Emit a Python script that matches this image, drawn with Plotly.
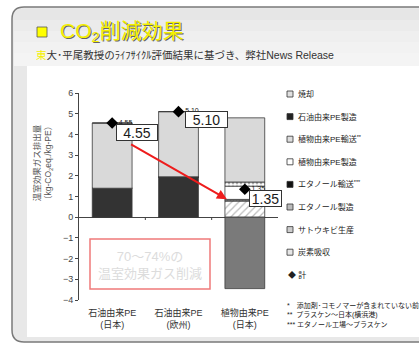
import plotly.graph_objects as go

# ---------------- data ----------------
categories = ["石油由来PE<br>(日本)", "石油由来PE<br>(欧州)", "植物由来PE<br>(日本)"]
petro_pe_production = [1.40, 1.95, 0.0]     # 石油由来PE製造
sugarcane = [0.0, 0.0, 0.78]                # サトウキビ生産
ethanol_production = [0.0, 0.0, 0.05]       # エタノール製造
ethanol_transport = [0.0, 0.0, 0.03]        # エタノール輸送***
bio_pe_production = [0.0, 0.0, 0.64]        # 植物由来PE製造
bio_pe_transport = [0.0, 0.0, 0.20]         # 植物由来PE輸送**
incineration = [3.15, 3.15, 3.10]           # 焼却
carbon_absorption = [0.0, 0.0, -3.45]       # 炭素吸収
totals = [4.55, 5.10, 1.35]                 # 計
total_labels = ["4.55", "5.10", "1.35"]
y_ticks = [-4, -3, -2, -1, 0, 1, 2, 3, 4, 5, 6]
legend_labels = ["焼却", "石油由来PE製造", "植物由来PE輸送<sup>**</sup>", "植物由来PE製造",
                 "エタノール輸送<sup>***</sup>", "エタノール製造", "サトウキビ生産", "炭素吸収", "計"]
footnotes = ["*　添加剤･コモノマーが含まれていない前提", "**  プラスケン～日本(横浜港)",
             "*** エタノール工場～プラスケン"]

W, H = 419, 347
L, R, T, B = 79, 278, 93, 300
JP = "Liberation Sans, Noto Sans CJK JP"

def X(px):
    return (px - L) / (R - L)

def Y(py):
    return (B - py) / (B - T)

line = dict(color="#3a3a3a", width=0.8)
xs = list(range(len(categories)))

fig = go.Figure()
fig.add_bar(x=xs, y=petro_pe_production, name="石油由来PE製造", marker=dict(color="#333333", line=line))
fig.add_bar(x=xs, y=sugarcane, name="サトウキビ生産",
            marker=dict(color="white", line=line, pattern=dict(shape="/", fgcolor="#777777", bgcolor="white", size=5, solidity=0.25)))
fig.add_bar(x=xs, y=ethanol_production, name="エタノール製造",
            marker=dict(color="white", line=line, pattern=dict(shape="|", fgcolor="#555555", bgcolor="white", size=3)))
fig.add_bar(x=xs, y=ethanol_transport, name="エタノール輸送", marker=dict(color="#111111", line=line))
fig.add_bar(x=xs, y=bio_pe_production, name="植物由来PE製造", marker=dict(color="white", line=line))
fig.add_bar(x=xs, y=bio_pe_transport, name="植物由来PE輸送",
            marker=dict(color="white", line=line, pattern=dict(shape=".", fgcolor="#555555", bgcolor="white", size=4, solidity=0.4)))
fig.add_bar(x=xs, y=incineration, name="焼却", marker=dict(color="#d9d9d9", line=line))
fig.add_bar(x=xs, y=carbon_absorption, name="炭素吸収", marker=dict(color="#7a7a7a", line=line))
fig.add_scatter(x=xs, y=totals, name="計", mode="markers+text", text=total_labels,
                textposition="middle right", textfont=dict(size=7, color="#222"),
                marker=dict(symbol="diamond", size=9, color="black"))

for i, (v, t) in enumerate(zip(totals, total_labels)):
    shifts = [(25, -9, 40), (28, -8, 41), (21, -9, 31)][i]
    fig.add_annotation(x=i, y=v, text=t, showarrow=False, xshift=shifts[0], yshift=shifts[1],
                       width=shifts[2], height=15, bgcolor="white", bordercolor="#333", borderwidth=1,
                       borderpad=0, font=dict(size=14, color="#1a1a1a", family="Liberation Sans"))

# red arrow between first and third totals
fig.add_annotation(x=1.73, y=0.87, ax=0.24, ay=3.6, xref="x", yref="y", axref="x", ayref="y",
                   showarrow=True, arrowhead=2, arrowsize=1, arrowwidth=2, arrowcolor="#ee1c1c", text=" ")

shapes = []
# panel
r = 12
shapes.append(dict(type="path", xref="paper", yref="paper", layer="below",
                   path=(f"M{X(12)},{Y(7+r)} Q{X(12)},{Y(7)} {X(12+r)},{Y(7)} L{X(440)},{Y(7)} "
                         f"L{X(440)},{Y(342)} L{X(12+r)},{Y(342)} Q{X(12)},{Y(342)} {X(12)},{Y(342-r)} Z"),
                   fillcolor="#e8e8e8", line=dict(color="#7a7a7a", width=1.5)))
bands = ["#e6e6e6", "#ebebeb", "#efefef", "#f2f2f2", "#f4f4f4"]
for k, c in enumerate(bands):
    y0 = 9 + k * 11
    shapes.append(dict(type="rect", xref="paper", yref="paper", layer="below",
                       x0=X(14 if k else 20), x1=X(430), y0=Y(y0), y1=Y(y0 + 12 if k < 4 else 66),
                       fillcolor=c, line=dict(width=0)))
shapes.append(dict(type="rect", xref="paper", yref="paper", layer="below",
                   x0=X(27), x1=X(430), y0=Y(66), y1=Y(337), fillcolor="white", line=dict(width=0)))
# title square
shapes.append(dict(type="rect", xref="paper", yref="paper", x0=X(37), x1=X(47), y0=Y(27), y1=Y(37),
                   fillcolor="#ffff00", line=dict(color="#555", width=0.8)))
# red reduction box
shapes.append(dict(type="rect", xref="paper", yref="paper", x0=X(90), x1=X(210), y0=Y(239), y1=Y(289),
                   line=dict(color="#f07a7a", width=1.5)))
# small ticks at category boundaries on the zero line
for b in [0.5, 1.5]:
    shapes.append(dict(type="line", xref="x", yref="paper", x0=b, x1=b, y0=Y(217), y1=Y(220),
                       line=dict(color="#444", width=1)))
# legend swatches
leg_y = [94 + k * 22.6 for k in range(len(legend_labels))]
sw = ["#e0e0e0", "#222", "#dddddd", "white", "#111", "#bbbbbb", "#cccccc", "#e6e6e6"]
for k, s in enumerate(sw):
    shapes.append(dict(type="rect", xref="paper", yref="paper", x0=X(287), x1=X(293),
                       y0=Y(leg_y[k] - 3), y1=Y(leg_y[k] + 3), fillcolor=s,
                       line=dict(color="#333", width=0.8)))
fig.update_layout(shapes=shapes)

ann = []
# title
ann.append(dict(text="CO<sub>2</sub>削減効果", x=X(58), y=Y(31.5), xanchor="left", yanchor="middle",
                font=dict(size=21, color="#666", family=JP), xshift=1, yshift=-1))
ann.append(dict(text="CO<sub>2</sub>削減効果", x=X(58), y=Y(31.5), xanchor="left", yanchor="middle",
                font=dict(size=21, color="#f4f000", family=JP)))
ann.append(dict(text="<span style='color:#f4f000'>東</span>大･平尾教授のﾗｲﾌｻｲｸﾙ評価結果に基づき、弊社News Release",
                x=X(34), y=Y(55), xanchor="left", yanchor="middle", font=dict(size=10.5, color="#333", family=JP)))
# y-axis title
ann.append(dict(text="温室効果ガス排出量<br>（kg-CO<sub>2</sub>eq./kg-PE）", x=X(43), y=Y(163), textangle=-90,
                xanchor="center", yanchor="middle", font=dict(size=8.5, color="#555", family=JP)))
# reduction text
ann.append(dict(text="70～74%の<br>温室効果ガス削減", x=X(150), y=Y(265), xanchor="center", yanchor="middle",
                font=dict(size=13, color="#dcdcdc", family=JP)))
# legend text
for k, t in enumerate(legend_labels):
    txt = ("◆ " + t) if k == len(legend_labels) - 1 else t
    xx = 286 if k == len(legend_labels) - 1 else 296
    ann.append(dict(text=txt, x=X(xx), y=Y(leg_y[k]), xanchor="left", yanchor="middle",
                    font=dict(size=8, color="#222", family=JP)))
for k, t in enumerate(footnotes):
    ann.append(dict(text=t, x=X(285), y=Y(305 + k * 9.5), xanchor="left", yanchor="middle",
                    font=dict(size=7, color="#222", family=JP)))
for a in ann:
    a.update(xref="paper", yref="paper", showarrow=False)
    fig.add_annotation(**a)

fig.update_layout(
    width=W, height=H, margin=dict(l=L, r=W - R, t=T, b=H - B),
    paper_bgcolor="white", plot_bgcolor="rgba(0,0,0,0)",
    barmode="relative", bargap=0.4, showlegend=False,
    font=dict(family=JP, color="#333"),
    xaxis=dict(tickmode="array", tickvals=xs, ticktext=categories, range=[-0.5, 2.5],
               showline=False, showgrid=False, ticks="", ticklabelstandoff=6,
               tickfont=dict(size=9, color="#333")),
    yaxis=dict(range=[-4, 6], tickvals=y_ticks, showgrid=False, showline=True, linecolor="#444",
               linewidth=1, ticks="outside", ticklen=3, tickcolor="#444", zeroline=True,
               zerolinecolor="#444", zerolinewidth=1, tickfont=dict(size=9, color="#444")),
)
fig.write_html("out.html")
